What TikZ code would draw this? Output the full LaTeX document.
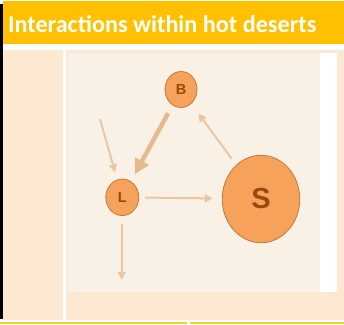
\documentclass[tikz,border=0pt]{standalone}
\usepackage{fontspec}
\setmainfont{Liberation Sans}
\newfontfamily\titlefont{Carlito}
\usetikzlibrary{arrows.meta,shapes.geometric}
\definecolor{hdr}{HTML}{FFC000}
\definecolor{peach}{HTML}{FDE8D1}
\definecolor{imgbg}{HTML}{F9F1E6}
\definecolor{nodefill}{HTML}{F6A25A}
\definecolor{nodeline}{HTML}{BF7A3C}
\definecolor{nodetext}{HTML}{9A4710}
\definecolor{arr}{HTML}{EBC6A0}
\definecolor{arrthick}{HTML}{E8BA8B}
\tikzset{
  blob/.style={ellipse, draw=nodeline, line width=0.8pt, fill=nodefill, inner sep=0pt,
    text=nodetext, font=\bfseries},
  thinarrow/.style={draw=arr, line width=2pt, -{Triangle[length=8pt,width=8pt]}},
  thickarrow/.style={draw=arrthick, line width=4.5pt, -{Triangle[length=15pt,width=15pt]}}
}
\begin{document}
\begin{tikzpicture}[x=1pt,y=-1pt]
\useasboundingbox (0,0) rectangle (344,324);
\fill[white] (0,0) rectangle (344,324);
% header
\fill[hdr] (3,1) rectangle (344,44);
\node[anchor=base west, inner sep=0pt, text=white, font=\titlefont\bfseries\fontsize{24.2}{28}\selectfont] (title) at (8,32) {Interactions within hot deserts};
% table body
\fill[peach] (3,50) rectangle (63,320);
\fill[peach] (66,50) rectangle (344,320);
\fill[black] (0,4) rectangle (2.5,319);
\fill[hdr!80] (0,322) rectangle (187,324);
\fill[hdr!80] (190,322) rectangle (344,324);
% image
\fill[imgbg] (68,53) rectangle (320,292);
\fill[white] (320,53) rectangle (337,292);
% nodes
\node[blob, minimum width=32pt, minimum height=36pt, font=\bfseries\fontsize{14.5}{14}\selectfont] (B) at (181,89.5) {B};
\node[blob, minimum width=33pt, minimum height=36.5pt, font=\bfseries\fontsize{14.5}{14}\selectfont] (L) at (122.3,197.3) {L};
\node[blob, minimum width=77.5pt, minimum height=87.5pt, font=\bfseries\fontsize{29}{29}\selectfont] (S) at (261,199) {S};
\coordinate (in) at (100,119.3);
\coordinate (out) at (121.7,280);
% connectors
\draw[thinarrow, shorten >=7.5pt] (in) -- (L);
\draw[thickarrow, shorten <=9pt, shorten >=8pt] (B) -- (L);
\draw[thinarrow, shorten <=8pt, shorten >=12pt] (S) -- (B);
\draw[thinarrow, shorten <=6pt, shorten >=9pt] (L) -- (S);
\draw[thinarrow, shorten <=8pt] (L) -- (out);
\end{tikzpicture}
\end{document}
